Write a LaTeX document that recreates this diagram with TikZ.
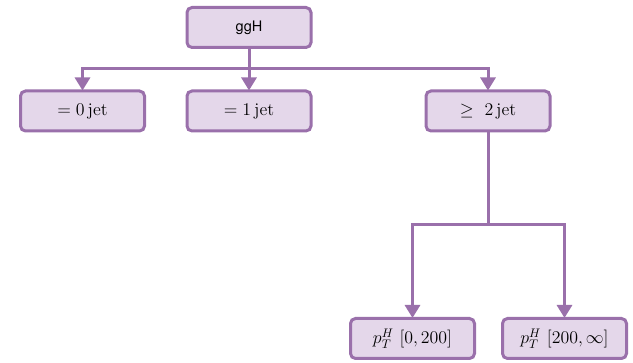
\documentclass[tikz,border=0pt]{standalone}
\usepackage{graphicx}
\usepackage{fontspec}
\newfontfamily\labelsans{TeX Gyre Heros}
\usetikzlibrary{arrows.meta}
\definecolor{boxfill}{HTML}{E4D7EA}
\definecolor{boxline}{HTML}{9A70AB}
\newcommand\boxmath[1]{\scalebox{1.24}{$#1$}}
\tikzset{
  catbox/.style={draw=boxline, fill=boxfill, line width=3pt, rounded corners=5pt,
    minimum width=124pt, minimum height=40pt, inner sep=0pt, font=\fontsize{14.4}{17}\selectfont},
  conn/.style={draw=boxline, line width=3pt},
  arr/.style={conn, -{Triangle[width=15pt,length=13pt]}, shorten >=-1pt},
}
\begin{document}
\begin{tikzpicture}[x=1pt, y=-1pt]
  \useasboundingbox (0,0) rectangle (633,363);
  \node[catbox] (ggH) at (249,27.5) {\labelsans\fontsize{14.5}{16}\selectfont ggH};
  \node[catbox] (zero) at (82.5,111) {\boxmath{=0\,\mathrm{jet}}};
  \node[catbox] (one) at (249,111) {\boxmath{=1\,\mathrm{jet}}};
  \node[catbox] (two) at (488,111) {\boxmath{\geq\ 2\,\mathrm{jet}}};
  \node[catbox] (lowpt) at (412.5,338.5) {\boxmath{p_T^H\ [0,200]}};
  \node[catbox] (highpt) at (564.5,338.5) {\boxmath{p_T^H\ [200,\infty]}};

  \coordinate (bus) at (249,69);
  \coordinate (split) at (488,225);
  \draw[conn] (ggH.south) -- (bus);
  \draw[arr] (bus) -| (zero.north);
  \draw[arr] (bus) -- (one.north);
  \draw[arr] (bus) -| (two.north);
  \draw[conn] (two.south) -- (split);
  \draw[arr] (split) -| (lowpt.north);
  \draw[arr] (split) -| (highpt.north);
\end{tikzpicture}
\end{document}
